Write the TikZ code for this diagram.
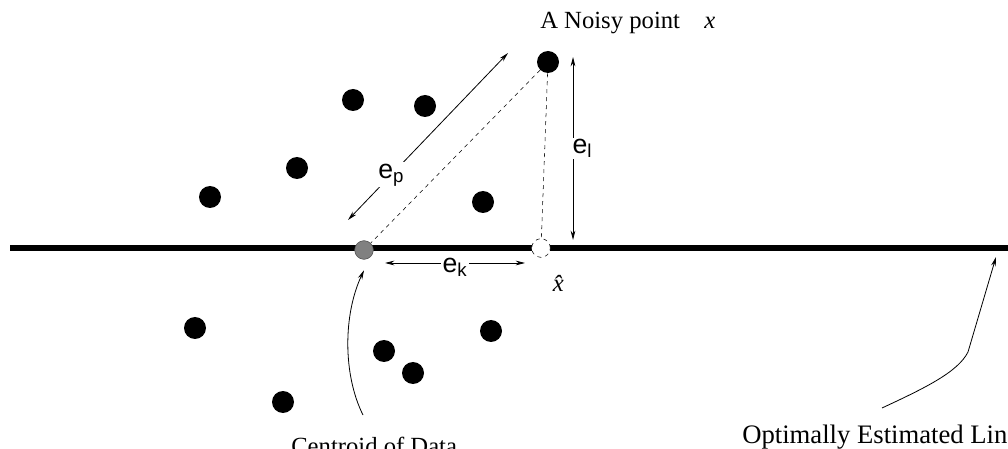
\documentclass[tikz,border=0pt]{standalone}
\usepackage{fontspec}
\setmainfont{Liberation Serif}
\setsansfont{Liberation Sans}
\usetikzlibrary{arrows.meta}

\begin{document}
\begin{tikzpicture}[
  x=0.75pt, y=-0.75pt,
  dot/.style={circle, fill=black, inner sep=0pt, minimum size=16.5pt},
  hollow/.style={circle, inner sep=0pt, minimum size=14pt},
  err/.style={font=\fontsize{20}{22}\selectfont\sffamily, fill=white, inner sep=1pt},
  lbl/.style={font=\fontsize{18.5}{21}\selectfont, inner sep=0pt},
  pointer/.style={-{Stealth[length=7pt,width=3.5pt]}, semithick},
  measure/.style={{Stealth[length=7pt,width=3.5pt]}-{Stealth[length=7pt,width=3.5pt]}, semithick},
]
  \clip (0,0) rectangle (1008,449);

  % estimated line
  \draw[line width=5pt] (10,248) -- (1020,248);

  % data points
  \node[dot] (noisy) at (548,62) {};
  \node[dot] (d1) at (353,100) {};
  \node[dot] (d2) at (425,106) {};
  \node[dot] (d3) at (297,168) {};
  \node[dot] (d4) at (210,197) {};
  \node[dot] (d5) at (483,202) {};
  \node[dot] (d6) at (195,328) {};
  \node[dot] (d7) at (491,331) {};
  \node[dot] (d8) at (384,351) {};
  \node[dot] (d9) at (413,373) {};
  \node[dot] (d10) at (283,402) {};

  \node[hollow, draw=black!70, fill=gray] (centroid) at (364,250) {};
  \node[hollow, draw, dashed, fill=white] (xhat) at (541,248) {};

  \draw[dashed] (noisy) -- (centroid);
  \draw[dashed] (noisy) -- (xhat);

  % errors
  \coordinate (ep1) at (348,220);
  \coordinate (ep2) at (508,53);
  \coordinate (el1) at (573,57);
  \coordinate (el2) at (573,240);
  \coordinate (ek1) at (385,263);
  \coordinate (ek2) at (525,263);
  \draw[measure] (ep1) -- node[err, pos=0.27] {e\textsubscript{p}} (ep2);
  \draw[measure] (el1) -- node[err, xshift=7pt] {e\textsubscript{l}} (el2);
  \draw[measure] (ek1) -- node[err, yshift=-3pt] {e\textsubscript{k}} (ek2);

  % labels
  \node[lbl, anchor=base west] (title) at (540,29) {A Noisy point};
  \node[lbl, anchor=base west] (xlbl) at (704,29) {\textit{x}};
  \node[lbl] (xhatlbl) at (563,283) {\textit{\^{x}}};
  \node[lbl, anchor=base west] (cdata) at (291,455) {Centroid of Data};
  \node[lbl, font=\fontsize{20}{22}\selectfont, anchor=base west] (oline) at (742,443) {Optimally Estimated Line};

  \coordinate (c0) at (363,415);
  \coordinate (l0) at (882,408);
  \coordinate (l1) at (968,352);
  \draw[pointer] (c0) .. controls (343,375) and (343,315) .. ([yshift=-8pt]centroid.south);
  \draw[pointer] (l0) .. controls (925,388) and (958,372) .. (l1) -- (996,257);
\end{tikzpicture}
\end{document}
